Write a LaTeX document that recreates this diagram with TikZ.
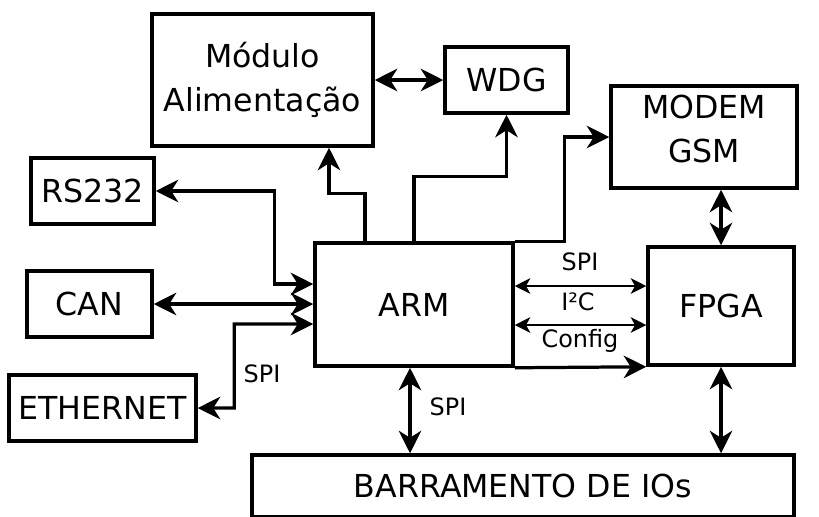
\documentclass[tikz,border=0pt]{standalone}
\usepackage{fontspec}
\setmainfont{DejaVu Sans}
\usetikzlibrary{arrows.meta}

\def\px{0.025cm}

\begin{document}
\begin{tikzpicture}[x=0.025cm, y=-0.025cm,
    blk/.style={draw, line width=2.5pt, inner sep=0pt, align=center,
                font=\fontsize{22.5}{31}\selectfont},
    lbl/.style={inner sep=0pt, font=\fontsize{17}{19}\selectfont},
    arr/.style={line width=2.3pt, -{Stealth[length=16pt,width=16pt,inset=5pt]}},
    dbl/.style={line width=2.3pt, {Stealth[length=16pt,width=16pt,inset=5pt]}-{Stealth[length=16pt,width=16pt,inset=5pt]}},
    bus/.style={line width=1.7pt, {Stealth[length=11pt,width=11pt,inset=3pt]}-{Stealth[length=11pt,width=11pt,inset=3pt]}}]
    \useasboundingbox (0,0) rectangle (819,516);

    % Blocks
    \node[blk, minimum width=221*\px, minimum height=132*\px] (mod) at (262.5,80) {Módulo\\Alimentação};
    \node[blk, minimum width=123*\px, minimum height=66*\px] (wdg) at (506.5,80) {WDG};
    \node[blk, minimum width=186*\px, minimum height=102*\px, text depth=12pt] (gsm) at (704,137) {MODEM\\GSM};
    \node[blk, minimum width=123*\px, minimum height=66*\px] (rs) at (92.5,191) {RS232};
    \node[blk, minimum width=198*\px, minimum height=123*\px] (arm) at (414,304.5) {ARM};
    \node[blk, minimum width=146*\px, minimum height=118*\px] (fpga) at (721,306) {FPGA};
    \node[blk, minimum width=125*\px, minimum height=66*\px] (can) at (89.5,304) {CAN};
    \node[blk, minimum width=187*\px, minimum height=66*\px] (eth) at (102.5,408) {ETHERNET};
    \node[blk, minimum width=542*\px, minimum height=62*\px] (io) at (523,486) {BARRAMENTO DE IOs};

    % ARM to the top blocks
    \draw[arr] ([xshift=-49*\px]arm.north) -- ++(0,-48) -| ([xshift=66.5*\px]mod.south);
    \draw[arr] (arm.north) -- ++(0,-65) -| (wdg.south);
    \draw[arr] (arm.north east) -- ++(50,0) |- (gsm.west);
    \draw[dbl] (mod.east) -- (wdg.west);

    % Left side interfaces
    \draw[dbl] (rs.east) -| ++(119,93) -- ([yshift=20.5*\px]arm.west);
    \draw[dbl] (can.east) -- (can.east -| arm.west);
    \draw[dbl] ([yshift=-19.5*\px]arm.west) -| ++(-79,84) -- (eth.east);
    \node[lbl] (spieth) at (262,374) {SPI};

    % ARM to FPGA
    \draw[bus] ([yshift=18.5*\px]arm.east) coordinate (a1) -- (a1 -| fpga.west);
    \draw[bus] ([yshift=-20.5*\px]arm.east) coordinate (a2) -- (a2 -| fpga.west);
    \draw[arr] (arm.south east) -- (fpga.south west);
    \node[lbl] (spifpga) at (580,262) {SPI};
    \node[lbl] (i2c) at (578,302) {I²C};
    \node[lbl] (cfg) at (580,341) {Config};

    % Vertical links
    \draw[dbl] (fpga.north |- gsm.south) -- (fpga.north);
    \draw[dbl] ([xshift=-4*\px]arm.south) coordinate (b1) -- (b1 |- io.north);
    \draw[dbl] (fpga.south) -- (fpga.south |- io.north);
    \node[lbl] (spiio) at (448,407) {SPI};
\end{tikzpicture}
\end{document}
